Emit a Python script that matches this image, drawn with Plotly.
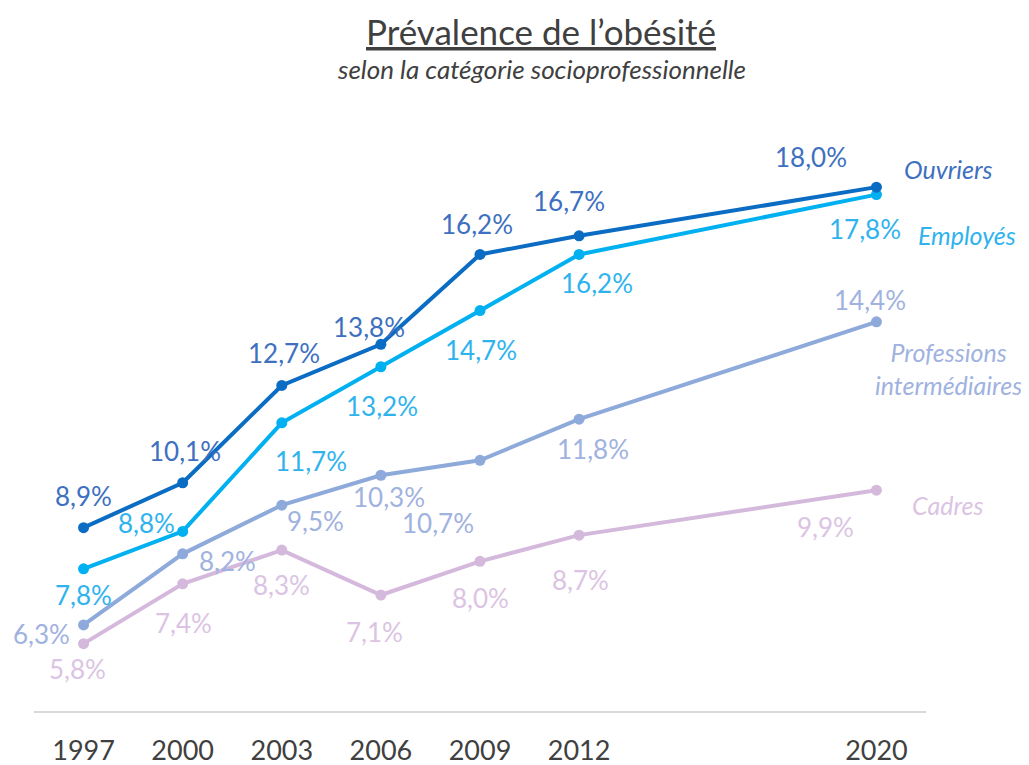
import plotly.graph_objects as go

# ---- data ----
years = ["1997", "2000", "2003", "2006", "2009", "2012", "2020"]
ouvriers = [8.9, 10.1, 12.7, 13.8, 16.2, 16.7, 18.0]
employes = [7.8, 8.8, 11.7, 13.2, 14.7, 16.2, 17.8]
professions = [6.3, 8.2, 9.5, 10.3, 10.7, 11.8, 14.4]
cadres = [5.8, 7.4, 8.3, 7.1, 8.0, 8.7, 9.9]
series_names = ["Ouvriers", "Employés", "Professions<br>intermédiaires", "Cadres"]

# axis slots: two empty slots between 2012 and 2020
category_order = years[:6] + [" ", "  "] + years[6:]

# ---- style ----
PAGE_OFF = 8  # default page margin around the figure
W, H = 1029 - PAGE_OFF, 765 - PAGE_OFF
ML, MR, MT, MB = 26, 103, 123, 54
line_colors = ["#0a6cc2", "#00b0f0", "#8eaadb", "#d5b9dc"]
text_colors = ["#3d70c0", "#2fb3ee", "#9fb2e0", "#dbc4e3"]
FONT = "Lato, 'Open Sans', sans-serif"

# label offsets (px) relative to each point: (dx, dy) with dy positive downward
offsets = [
    [(0, -32), (2, -32), (2, -32), (-12, -17), (-3, -30), (-10, -35), (-65, -30)],
    [(0, 26), (-36, -8), (29, 38), (1, 39), (1, 39), (18, 29), (-11, 34)],
    [(-42, 9), (45, 7), (34, 16), (8, 22), (-42, 63), (14, 30), (-6, -22)],
    [(-6, 25), (1, 39), (0, 35), (-6, 37), (0, 37), (1, 45), (-51, 37)],
]
legend_pos = [(948, 169), (967, 235), (948, 368), (948, 505)]


def px_to_paper(px, py):
    px -= PAGE_OFF
    py -= PAGE_OFF
    return (px - ML) / (W - ML - MR), (H - MB - py) / (H - MT - MB)


all_series = [ouvriers, employes, professions, cadres]

fig = go.Figure()
# draw lighter series first so Ouvriers is on top
for i in [3, 2, 1, 0]:
    fig.add_trace(go.Scatter(
        x=years, y=all_series[i], mode="lines+markers",
        line=dict(color=line_colors[i], width=4),
        marker=dict(color=line_colors[i], size=11),
        name=series_names[i], showlegend=False, hoverinfo="skip",
    ))

annotations = []
for i, vals in enumerate(all_series):
    for j, v in enumerate(vals):
        dx, dy = offsets[i][j]
        annotations.append(dict(
            x=category_order.index(years[j]), y=v, xref="x", yref="y",
            text=f"{v:.1f}%".replace(".", ","), showarrow=False,
            xanchor="center", yanchor="middle",
            xshift=dx, yshift=-dy,
            font=dict(family=FONT, size=26, color=text_colors[i]),
        ))
    lx, ly = px_to_paper(*legend_pos[i])
    annotations.append(dict(
        x=lx, y=ly, xref="paper", yref="paper",
        text=f"<i>{series_names[i]}</i>", showarrow=False,
        xanchor="center", yanchor="middle",
        font=dict(family=FONT, size=25, color=text_colors[i]),
    ))

# title & subtitle
tx, ty = px_to_paper(541, 9)
annotations.append(dict(
    x=tx, y=ty, xref="paper", yref="paper",
    text="<u>Prévalence de l’obésité</u>", showarrow=False,
    xanchor="center", yanchor="top", borderpad=0,
    font=dict(family=FONT, size=35, color="#404040"),
))
sx, sy = px_to_paper(541, 69)
annotations.append(dict(
    x=sx, y=sy, xref="paper", yref="paper",
    text="<i>selon la catégorie socioprofessionnelle</i>", showarrow=False,
    xanchor="center", yanchor="middle",
    font=dict(family=FONT, size=26, color="#404040"),
))

fig.update_layout(
    width=W, height=H,
    margin=dict(l=ML, r=MR, t=MT, b=MB, autoexpand=False),
    paper_bgcolor="white", plot_bgcolor="white",
    annotations=annotations,
    xaxis=dict(
        type="category", categoryorder="array", categoryarray=category_order,
        range=[-0.5, 8.5], tickmode="array", tickvals=years, ticktext=years,
        showgrid=False, zeroline=False, automargin=False,
        showline=True, linecolor="#d9d9d9", linewidth=2,
        ticks="", ticklabelstandoff=15,
        tickfont=dict(family=FONT, size=27, color="#404040"),
    ),
    yaxis=dict(
        range=[4.0, 19.5], visible=False, showgrid=False, zeroline=False,
        automargin=False,
    ),
)

fig.write_html("out.html")
